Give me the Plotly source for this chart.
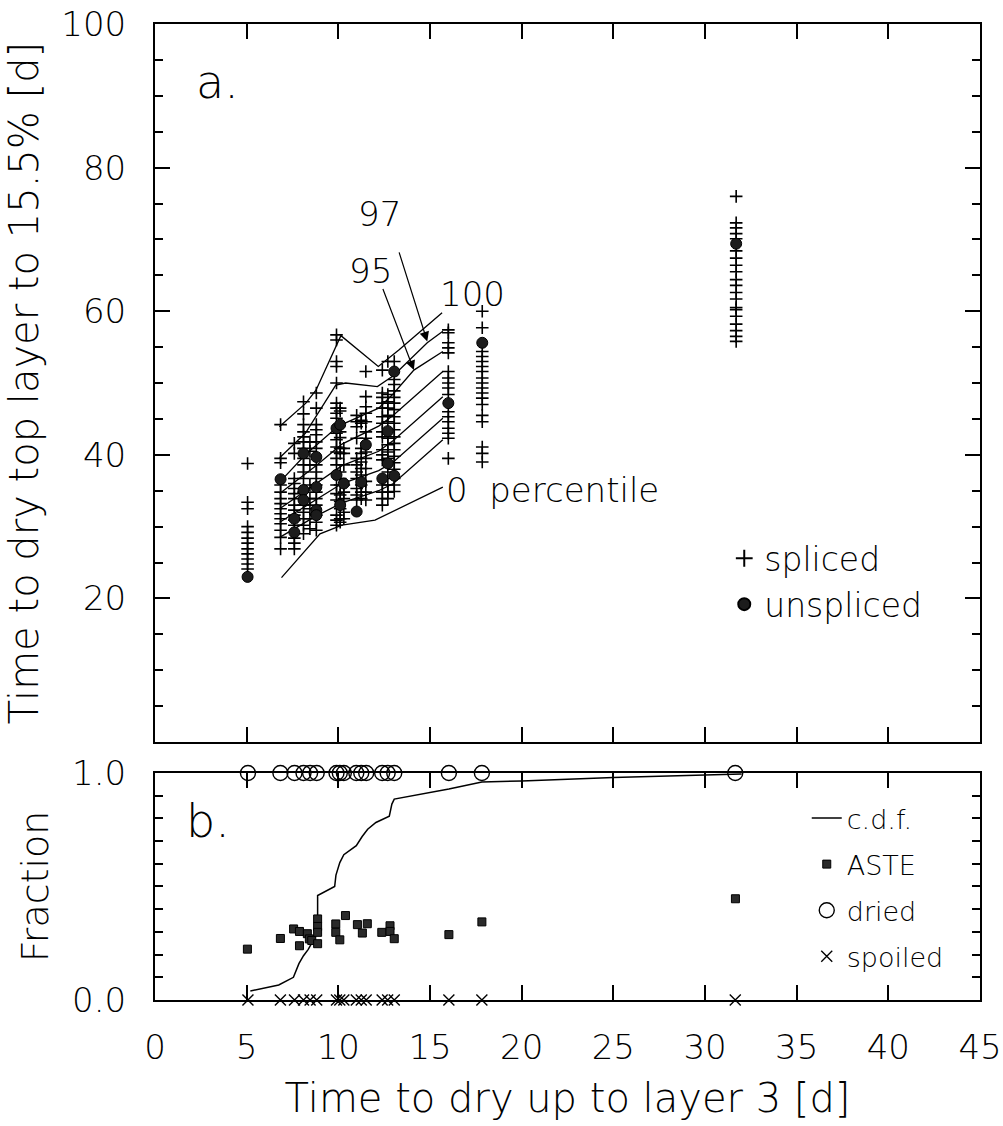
import plotly.graph_objects as go

# ---------------- data ----------------
config_x = [5.05, 6.85, 7.6, 8.1, 8.45, 8.8, 9.9, 10.1, 10.3, 11.0, 11.25, 11.5,
            12.4, 12.7, 13.05, 16.0, 17.85, 31.7]

sp_c01 = [38.8, 33.4, 32.5, 30.0, 29.2, 28.4, 27.7, 26.9, 26.2, 25.5, 24.8, 24.1]
sp_c02 = [44.2, 39.5, 38.9, 35.8, 34.8, 33.9, 33.2, 32.5, 31.8, 31.1, 30.4, 29.5, 28.5, 26.9]
sp_c03 = [41.6, 40.2, 36.7, 36.0, 35.3, 34.6, 33.9, 33.0, 32.3, 31.6, 30.9, 30.2, 28.4, 27.7, 26.9]
sp_c04 = [47.4, 45.7, 44.2, 43.2, 42.5, 41.8, 40.9, 39.5, 38.6, 37.6, 36.7, 34.8, 33.0, 32.0, 31.1, 30.2, 29.0]
sp_c05 = [41.8, 40.5, 38.6, 35.8, 33.9, 32.5, 31.1, 29.7]
sp_c06 = [48.6, 46.5, 44.2, 43.5, 42.8, 41.8, 40.9, 38.6, 37.6, 36.7, 35.8, 34.8, 33.9, 33.0, 31.6, 30.6, 29.5]
sp_c07 = [56.7, 56.0, 53.0, 52.3, 50.0, 47.2, 46.5, 45.8, 45.1, 43.0, 42.1, 41.1, 40.4, 39.5, 38.6,
          35.8, 34.6, 33.7, 31.6, 30.9, 30.2]
sp_c08 = [46.5, 46.1, 43.2, 42.4, 40.9, 40.2, 37.6, 36.7, 35.8, 34.4, 33.5, 32.5, 31.1, 30.6]
sp_c09 = [40.9, 40.2, 38.6, 35.8, 34.8, 33.9, 32.0, 31.1]
sp_c10 = [45.5, 44.6, 43.9, 42.3, 39.5, 38.6, 37.6, 36.7, 35.3, 34.4, 33.7]
sp_c11 = [44.8, 44.4, 40.9, 40.2, 39.0, 38.1, 37.2, 35.8, 34.8, 33.9]
sp_c12 = [51.6, 48.1, 46.7, 45.8, 44.6, 43.2, 42.3, 40.4, 39.5, 38.1, 36.3, 34.8, 33.7]
sp_c13 = [51.8, 48.6, 48.0, 47.2, 46.5, 45.3, 44.4, 43.2, 42.5, 40.7, 40.0, 39.3, 35.8, 34.8, 33.9, 33.0]
sp_c14 = [53.0, 48.4, 47.4, 46.5, 45.5, 44.6, 42.3, 41.4, 40.4, 39.5, 37.6, 35.8, 34.8, 33.9]
sp_c15 = [53.0, 50.5, 49.8, 48.9, 48.0, 47.2, 46.3, 45.3, 44.4, 43.5, 42.5, 41.6, 40.7, 39.8,
          38.9, 38.0, 36.7, 35.8, 34.9]
sp_c16 = [57.4, 57.0, 55.6, 54.9, 54.2, 51.6, 50.7, 50.0, 49.3, 48.4, 46.0, 45.3, 44.6, 43.7,
          43.0, 42.3, 39.5]
sp_c17 = [60.0, 57.7, 54.4, 53.7, 53.0, 52.3, 51.6, 50.7, 50.0, 49.3, 48.6, 47.9, 47.0, 45.5,
          44.6, 41.1, 40.2, 39.0]
sp_c18 = [76.0, 72.3, 71.6, 70.8, 70.1, 68.4, 67.4, 66.4, 65.5, 64.4, 63.6, 62.6, 61.7, 60.5,
          60.2, 59.3, 58.2, 57.3, 56.5, 55.8]
spliced_cols = [sp_c01, sp_c02, sp_c03, sp_c04, sp_c05, sp_c06, sp_c07, sp_c08, sp_c09,
                sp_c10, sp_c11, sp_c12, sp_c13, sp_c14, sp_c15, sp_c16, sp_c17, sp_c18]

unspliced_x = [5.05, 6.85, 7.6, 7.6, 8.1, 8.1, 8.1, 8.8, 8.8, 8.8, 8.8, 9.9, 9.9, 10.1, 10.1,
               10.3, 11.0, 11.25, 11.5, 12.4, 12.7, 12.7, 13.05, 13.05, 16.0, 17.85, 31.7]
unspliced_y = [23.0, 36.6, 29.2, 31.1, 40.2, 35.1, 33.7, 39.7, 35.5, 32.3, 31.6, 43.7, 37.2, 44.2, 33.0,
               36.0, 32.1, 36.2, 41.4, 36.7, 43.3, 38.8, 51.6, 37.1, 47.2, 55.6, 69.4]

# percentile curves
pct_x = [6.8, 8.8, 10.2, 12.2, 13.0, 15.7]
pct_90 = [34.6, 38.5, 41.5, 44.0, 45.5, 51.6]
pct_75 = [32.5, 36.0, 38.5, 40.5, 42.0, 48.1]
pct_50 = [30.6, 33.8, 36.0, 37.8, 39.0, 45.1]
pct_25 = [28.5, 31.5, 33.3, 35.0, 36.0, 42.1]
pct_95_x = [6.8, 8.2, 10.0, 12.2, 13.0, 14.12, 15.7]
pct_95 = [36.2, 40.0, 44.0, 46.5, 48.5, 51.8, 54.4]
pct_0_x = [6.9, 9.0, 10.2, 12.0, 15.7]
pct_0 = [22.9, 29.0, 30.2, 30.9, 35.5]
pct_97_x = [6.8, 8.2, 9.86, 10.4, 12.13, 13.0, 14.85, 15.7]
pct_97 = [39.6, 43.0, 49.7, 50.0, 49.5, 51.0, 55.6, 57.2]
pct_100_x = [6.78, 8.23, 8.78, 10.14, 12.18, 13.3, 15.66]
pct_100 = [43.9, 47.2, 49.0, 56.6, 52.3, 54.6, 59.8]

# bottom panel
cdf_x = [5.2, 6.75, 7.55, 7.85, 8.1, 8.35, 8.65, 8.87, 8.87, 9.8, 9.87, 10.08, 10.3, 10.98,
         11.3, 11.6, 12.05, 12.78, 12.92, 13.05, 16.03, 17.83, 20.0, 25.0, 32.0]
cdf_y = [0.04, 0.066, 0.10, 0.16, 0.195, 0.222, 0.265, 0.30, 0.46, 0.50, 0.55, 0.605, 0.64,
         0.68, 0.72, 0.752, 0.782, 0.81, 0.863, 0.885, 0.929, 0.96, 0.965, 0.98, 0.995]
aste_x = [5.04, 6.84, 7.56, 7.88, 7.88, 8.31, 8.42, 8.55, 8.87, 8.87, 8.87, 8.87, 9.86, 9.86,
          10.08, 10.39, 11.04, 11.31, 11.58, 12.37, 12.82, 12.82, 13.05, 16.03, 17.83, 31.66]
aste_y = [0.224, 0.271, 0.313, 0.302, 0.239, 0.292, 0.269, 0.262, 0.357, 0.324, 0.298, 0.248,
          0.335, 0.298, 0.265, 0.372, 0.332, 0.295, 0.336, 0.298, 0.327, 0.302, 0.270, 0.288,
          0.344, 0.446]
dried_x = [5.07, 6.84, 7.61, 8.10, 8.46, 8.82, 9.90, 10.08, 10.30, 10.98, 11.25, 11.52, 12.39,
           12.69, 13.05, 16.03, 17.83, 31.65]
dried_y = [1.0] * len(dried_x)
spoiled_x = dried_x
spoiled_y = [0.0] * len(spoiled_x)

# ---------------- figure ----------------
FONT = "DejaVu Sans"
BLACK = "black"

sx, sy = [], []
for cx, col in zip(config_x, spliced_cols):
    sx += [cx] * len(col)
    sy += col

fig = go.Figure()

line_style = dict(color=BLACK, width=1.3)
for px_, py_ in [(pct_0_x, pct_0), (pct_x, pct_25), (pct_x, pct_50), (pct_x, pct_75),
                 (pct_x, pct_90), (pct_95_x, pct_95), (pct_97_x, pct_97), (pct_100_x, pct_100)]:
    fig.add_trace(go.Scatter(x=px_, y=py_, mode="lines", line=line_style,
                             showlegend=False, xaxis="x", yaxis="y", hoverinfo="skip"))

fig.add_trace(go.Scatter(x=sx, y=sy, mode="markers", name="spliced",
                         marker=dict(symbol="cross-thin", size=9, color=BLACK,
                                     line=dict(width=1.6, color=BLACK)),
                         xaxis="x", yaxis="y", legend="legend"))
fig.add_trace(go.Scatter(x=unspliced_x, y=unspliced_y, mode="markers", name="unspliced",
                         marker=dict(symbol="circle", size=11, color="#1c1c1c",
                                     line=dict(width=1, color=BLACK)),
                         xaxis="x", yaxis="y", legend="legend"))

# bottom panel
fig.add_trace(go.Scatter(x=cdf_x, y=cdf_y, mode="lines", name="c.d.f.",
                         line=dict(color=BLACK, width=1.5),
                         xaxis="x2", yaxis="y2", legend="legend2", legendgroup="a"))
fig.add_trace(go.Scatter(x=aste_x, y=aste_y, mode="markers", name="ASTE",
                         marker=dict(symbol="square", size=8, color="#2a2a2a",
                                     line=dict(width=1, color=BLACK)),
                         xaxis="x2", yaxis="y2", legend="legend2", legendgroup="b"))
fig.add_trace(go.Scatter(x=dried_x, y=dried_y, mode="markers", name="dried",
                         marker=dict(symbol="circle-open", size=15, color=BLACK,
                                     line=dict(width=1.4, color=BLACK)),
                         cliponaxis=False,
                         xaxis="x2", yaxis="y2", legend="legend2", legendgroup="c"))
fig.add_trace(go.Scatter(x=spoiled_x, y=spoiled_y, mode="markers", name="spoiled",
                         marker=dict(symbol="x-thin", size=11, color=BLACK,
                                     line=dict(width=1.4, color=BLACK)),
                         cliponaxis=False,
                         xaxis="x2", yaxis="y2", legend="legend2", legendgroup="d"))

tickfont = dict(family=FONT, size=34, color=BLACK, weight=200)
titlefont = dict(family=FONT, size=40, color=BLACK, weight=200)

axis_common = dict(showline=True, linewidth=2, linecolor=BLACK, mirror="allticks",
                   ticks="inside", ticklen=15, tickwidth=2, tickcolor=BLACK,
                   showgrid=False, zeroline=False, tickfont=tickfont, automargin=False)

fig.update_layout(
    width=1003, height=1126,
    margin=dict(l=155, r=23, t=24, b=126),
    paper_bgcolor="white", plot_bgcolor="white",
    font=dict(family=FONT, color=BLACK),
    xaxis=dict(axis_common, domain=[0, 1], range=[0, 45], tickvals=list(range(0, 46, 5)),
               showticklabels=False, anchor="y"),
    yaxis=dict(axis_common, domain=[0.2643, 1], range=[0, 100],
               tickvals=[20, 40, 60, 80, 100], ticklabelstandoff=20,
               minor=dict(dtick=5, ticklen=8, tickwidth=2, ticks="inside", tickcolor=BLACK),
               title=dict(text="Time to dry top layer to 15.5% [d]", font=titlefont, standoff=10),
               anchor="x"),
    xaxis2=dict(axis_common, domain=[0, 1], range=[0, 45], tickvals=list(range(0, 46, 5)),
                ticklabelstandoff=16, ticklabeloverflow="allow",
                title=dict(text="Time to dry up to layer 3 [d]", font=titlefont, standoff=18),
                anchor="y2"),
    yaxis2=dict(axis_common, domain=[0, 0.2326], range=[0, 1],
                tickvals=[0, 1], ticktext=["0.0", "1.0"], ticklabelstandoff=20,
                minor=dict(dtick=0.1, ticklen=8, tickwidth=2, ticks="inside", tickcolor=BLACK),
                title=dict(text="Fraction", font=dict(titlefont, size=38), standoff=12),
                anchor="x2"),
    legend=dict(x=0.69, xanchor="left", y=0.429, yanchor="middle",
                bgcolor="rgba(0,0,0,0)", font=dict(family=FONT, size=33, color=BLACK, weight=200),
                itemsizing="constant"),
    legend2=dict(x=0.79, xanchor="left", y=0.1153, yanchor="middle",
                 bgcolor="rgba(0,0,0,0)", font=dict(family=FONT, size=27, color=BLACK, weight=200),
                 traceorder="grouped", tracegroupgap=8),
)

ann_font = dict(family=FONT, size=34, color=BLACK, weight=200)
fig.add_annotation(x=2.1, y=91.9, xref="x", yref="y", text="a.", showarrow=False,
                   xanchor="left", yanchor="middle", font=dict(family=FONT, size=46, color=BLACK, weight=200))
fig.add_annotation(x=1.6, y=0.79, xref="x2", yref="y2", text="b.", showarrow=False,
                   xanchor="left", yanchor="middle", font=dict(family=FONT, size=46, color=BLACK, weight=200))
fig.add_annotation(x=12.25, y=73.6, xref="x", yref="y", text="97", showarrow=False, font=ann_font)
fig.add_annotation(x=11.77, y=65.6, xref="x", yref="y", text="95", showarrow=False, font=ann_font)
fig.add_annotation(x=17.34, y=62.4, xref="x", yref="y", text="100", showarrow=False, font=ann_font)
fig.add_annotation(x=15.75, y=35.1, xref="x", yref="y", text="0  percentile", showarrow=False,
                   xanchor="left", font=ann_font)
# arrows from labels to curves
fig.add_annotation(x=14.85, y=55.8, ax=13.29, ay=68.4, xref="x", yref="y", axref="x", ayref="y",
                   text="", showarrow=True, arrowhead=2, arrowsize=1.6, arrowwidth=1.2, arrowcolor=BLACK)
fig.add_annotation(x=14.12, y=51.8, ax=12.4, ay=63.3, xref="x", yref="y", axref="x", ayref="y",
                   text="", showarrow=True, arrowhead=2, arrowsize=1.6, arrowwidth=1.2, arrowcolor=BLACK)

fig.write_html("out.html")
